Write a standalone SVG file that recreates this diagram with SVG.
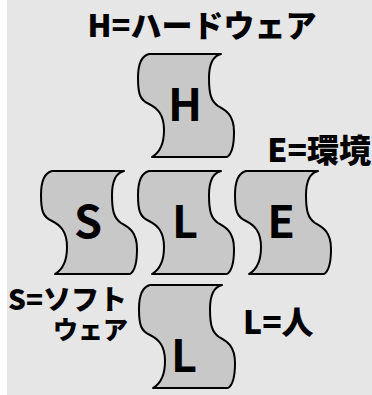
<svg xmlns="http://www.w3.org/2000/svg" xmlns:xlink="http://www.w3.org/1999/xlink" width="372" height="395" viewBox="0 0 372 395">
<style>
.sh{fill:#c8c8c8;stroke:#000;stroke-width:2;stroke-linejoin:round}
.lt{font-family:"Noto Sans CJK JP","Noto Sans",sans-serif;font-weight:bold;font-size:45px;fill:#000;text-anchor:middle}
.lb{font-family:"Noto Sans CJK JP","Noto Sans",sans-serif;font-weight:900;fill:#000}
</style>
<defs>
<path id="tape" class="sh" d="M0,0 L72,0 C64,2 60,10 60,24 C60,40 62,47 69,52 C76,56 85,60 85,78 C85,92 83,100 78,103 L3,103 C10,99 15,90 15,76 C15,60 8,54 0,50 C-9,46 -11,40 -11,24 C-11,10 -8,2 0,0 Z"/>
</defs>
<rect x="7" y="0" width="365" height="395" fill="#e6e6e6"/>
<g id="connectors"></g>
<g id="node-H">
<use xlink:href="#tape" x="149" y="54"/>
<text class="lt" x="185" y="121">H</text>
</g>
<g id="node-S">
<use xlink:href="#tape" x="52" y="171"/>
<text class="lt" x="88" y="238">S</text>
</g>
<g id="node-L1">
<use xlink:href="#tape" x="149" y="171"/>
<text class="lt" x="185" y="238">L</text>
</g>
<g id="node-E">
<use xlink:href="#tape" x="246" y="171"/>
<text class="lt" x="281" y="238">E</text>
</g>
<g id="node-L2">
<use xlink:href="#tape" x="150" y="285"/>
<text class="lt" x="184" y="372">L</text>
</g>
<g id="labels">
<text class="lb" x="202" y="37" text-anchor="middle" style="font-size:31px">H=ハードウェア</text>
<text class="lb" x="371" y="162" text-anchor="end" style="font-size:32px">E=環境</text>
<text class="lb" x="127" y="310" text-anchor="end" style="font-size:28px">S=ソフト</text>
<text class="lb" x="128" y="339" text-anchor="end" style="font-size:25px">ウェア</text>
<text class="lb" x="243" y="334" style="font-size:32px">L=人</text>
</g>
</svg>
